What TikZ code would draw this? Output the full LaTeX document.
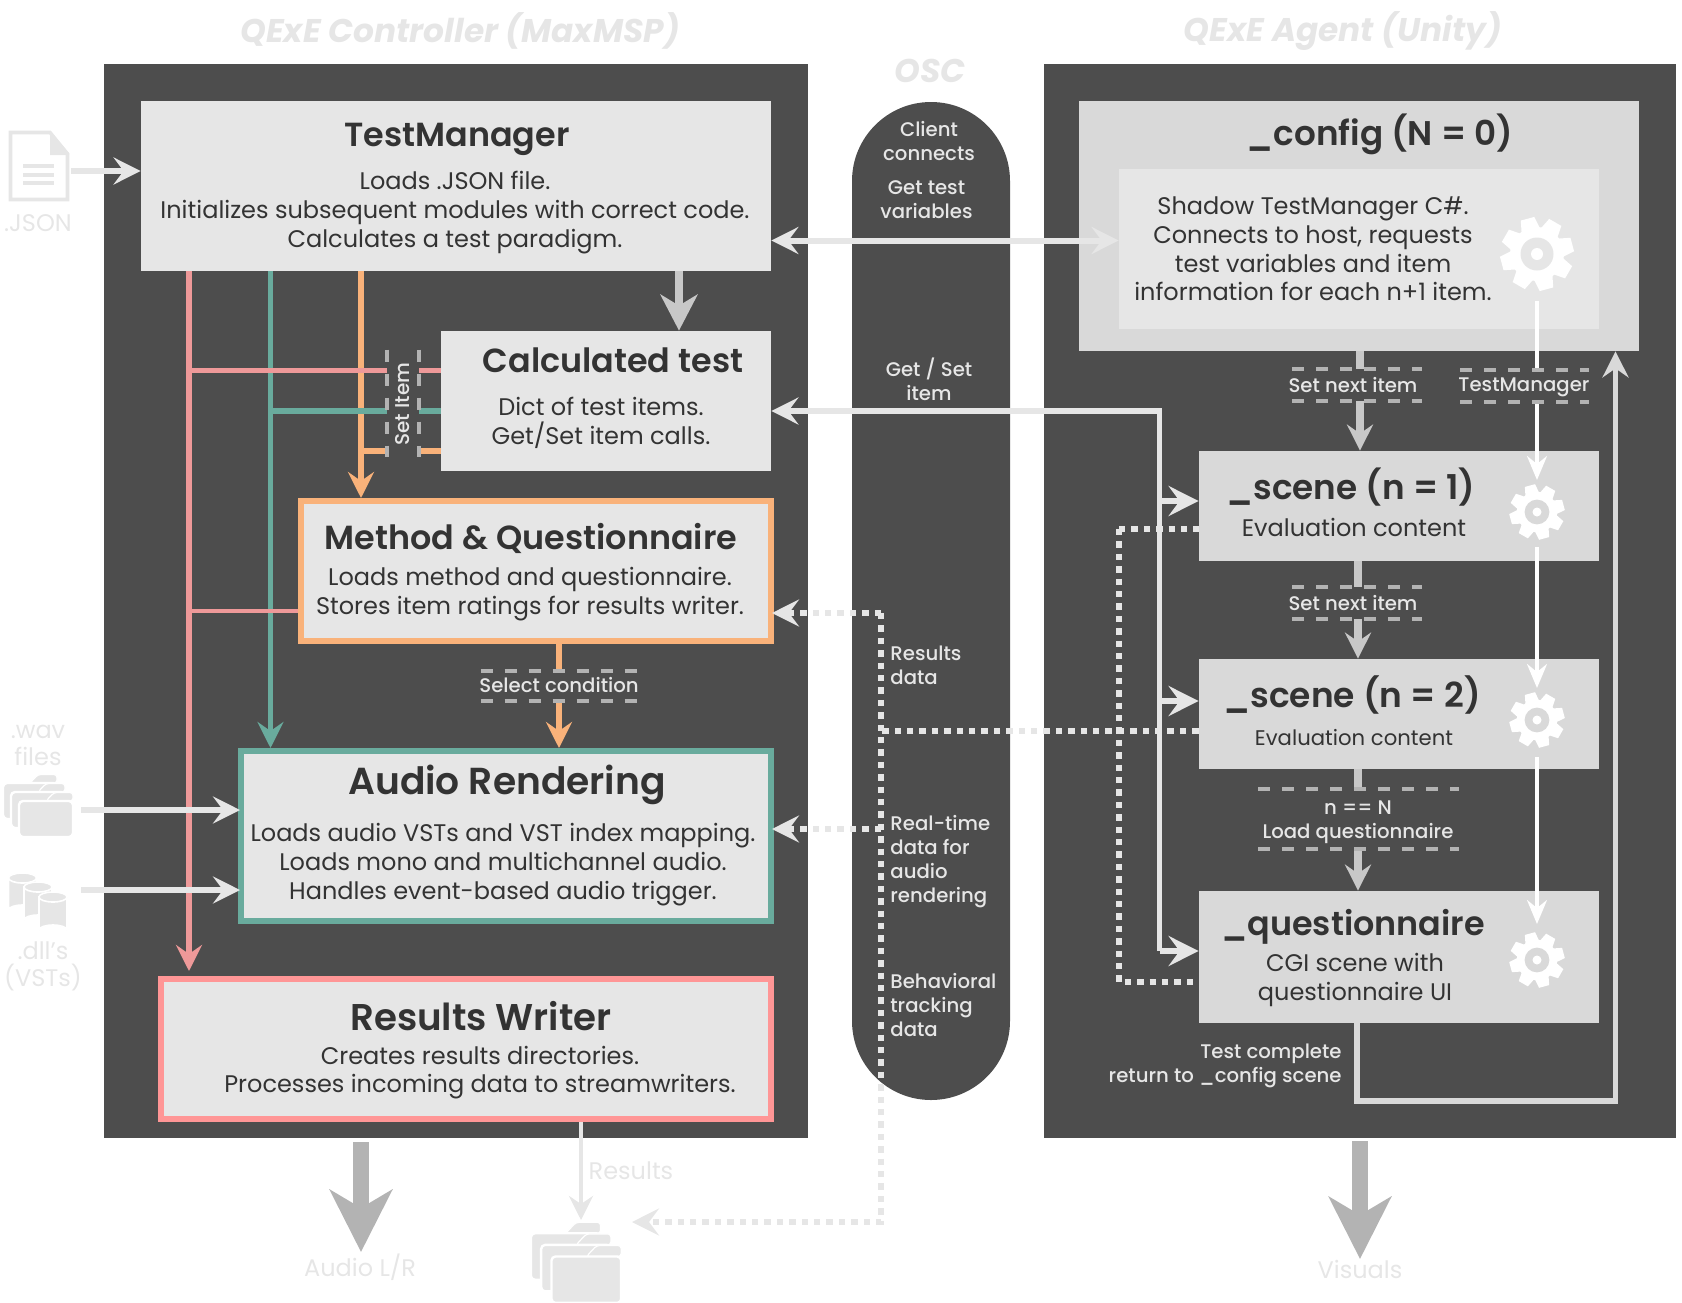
\documentclass[tikz,border=0pt]{standalone}
\usepackage{fontspec}
\setmainfont{Poppins}
\newfontfamily\semib{Poppins SemiBold}
\newfontfamily\medf{Poppins Medium}
\usetikzlibrary{arrows.meta}
\definecolor{panel}{HTML}{4D4D4D}
\definecolor{lite}{HTML}{E6E6E6}
\definecolor{mid}{HTML}{D9D9D9}
\definecolor{ink}{HTML}{333333}
\definecolor{gline}{HTML}{C8C8C8}
\definecolor{bigg}{HTML}{B3B3B3}
\definecolor{dashg}{HTML}{B3B3B3}
\definecolor{orng}{HTML}{F9B27A}
\definecolor{teal2}{HTML}{69AB9D}
\definecolor{pinkl}{HTML}{EE9999}
\definecolor{pinkb}{HTML}{FF9696}
\newcommand\bx[6]{\node[#6,minimum width={(#4-#2)*0.5pt},minimum height={(#5-#3)*0.5pt}] (#1) at ({(#2+#4)/2},{(#3+#5)/2}) {};}
\newcommand\fb[6]{\node[framebox=#6,minimum width={(#4-#2-6)*0.5pt},minimum height={(#5-#3-6)*0.5pt}] (#1) at ({(#2+#4)/2},{(#3+#5)/2}) {};}
\newcommand\gearicon[4]{% x y scale holecolour
  \begin{scope}[shift={(#1,#2)},scale=#3]
    \foreach \a in {15,60,...,330} {
      \fill[white,rotate=\a] (24,-9.5) -- (36.5,-7) -- (36.5,7) -- (24,9.5) -- cycle;
    }
    \fill[white] (0,0) circle[radius=27];
    \fill[#4] (0,0) circle[radius=16.5];
    \fill[white] (0,0) circle[radius=6];
  \end{scope}}
\newcommand\flayer[2]{% one sheet of the folder stack, shifted
  \begin{scope}[shift={(#1,#2)}]
    \filldraw[lite,draw=white,line width=.6pt,rounded corners=1.5pt] (46,31) -- (54,22.5) -- (73,22.5) -- (73,31) -- cycle;
    \filldraw[lite,draw=white,line width=1.2pt,rounded corners=2pt] (19,31) -- (73,31) -- (73,67) -- (19,67) -- cycle;
  \end{scope}}
\newcommand\folderstack[3]{%
  \begin{scope}[shift={(#1,#2)},scale=#3]
    \flayer{-16}{-18}\flayer{-8}{-9}\flayer{0}{0}
  \end{scope}}
\newcommand\cyl[3]{% cx ytop ybot
  \filldraw[lite,draw=white,line width=.8pt] (#1-14,#2) -- (#1-14,#3) arc[start angle=180,end angle=360,x radius=14,y radius=5] -- (#1+14,#2) -- cycle;
  \filldraw[lite,draw=white,line width=.8pt] (#1,#2) ellipse[x radius=14,y radius=5];}
\tikzset{
  x=0.5pt,y=-0.5pt,
  tipL/.tip={Stealth[length=13.5pt,width=13.5pt,inset=5pt]},
  tipLL/.tip={Stealth[length=15pt,width=15pt,inset=5.5pt]},
  tipS/.tip={Stealth[length=12pt,width=12pt,inset=4pt]},
  tipT/.tip={Stealth[length=12pt,width=10pt,inset=4pt]},
  tipG/.tip={Stealth[length=18pt,width=18.5pt,inset=5.5pt]},
  tipM/.tip={Stealth[length=13pt,width=13pt,inset=4.5pt]},
  tipB/.tip={Stealth[length=31pt,width=31pt,inset=9pt]},
  panelbox/.style={fill=panel,inner sep=0pt},
  plainbox/.style={fill=lite,inner sep=0pt},
  scenebox/.style={fill=mid,inner sep=0pt},
  framebox/.style={fill=lite,draw=#1,line width=3pt,inner sep=0pt},
  pillbox/.style={fill=panel,inner sep=0pt,rounded corners=39.5pt},
  gapbox/.style={fill=panel,inner sep=0pt},
  heading/.style={font=\fontsize{16.7}{20}\semib\selectfont,text=ink,inner sep=0pt},
  headbig/.style={heading,font=\fontsize{18.8}{20}\semib\selectfont},
  headmid/.style={heading,font=\fontsize{17.1}{20}\semib\selectfont},
  body/.style={font=\fontsize{12}{14.4}\selectfont,text=ink,align=center,inner sep=0pt},
  note/.style={font=\fontsize{9.85}{12}\medf\selectfont,text=lite,align=center,inner sep=0pt},
  notel/.style={note,align=left,anchor=west},
  outer/.style={font=\fontsize{12}{13.5}\selectfont,text=lite,align=center,inner sep=0pt},
  titletxt/.style={font=\fontsize{16.4}{20}\bfseries\itshape\selectfont,text=lite,inner sep=0pt},
  lightarrow/.style={draw=lite,line width=3pt,-{tipL}},
  scenearrow/.style={draw=lite,line width=3pt,-{tipLL}},
  getset/.style={draw=lite,line width=2.8pt},
  graybar/.style={draw=gline,line width=4pt},
  grayarrow/.style={graybar,-{tipM}},
  dashbar/.style={draw=dashg,line width=2pt,dash pattern=on 6pt off 6pt},
  dots/.style={draw=lite,line width=2.8pt,dash pattern=on 3.2pt off 3pt},
  whiteline/.style={draw=white,line width=1.7pt},
  pinkline/.style={draw=pinkl,line width=2.8pt},
  tealline/.style={draw=teal2,line width=2.8pt},
  orngline/.style={draw=orng,line width=2.8pt},
  bigarrow/.style={draw=bigg,line width=8pt,-{tipB}},
}
\begin{document}
\begin{tikzpicture}
\useasboundingbox (0,0) rectangle (1682,1302);
% panels
\bx{lp}{104}{64}{808}{1138}{panelbox}
\bx{rp}{1044}{64}{1676}{1138}{panelbox}
\node[pillbox,minimum width=79pt,minimum height=499pt] (pill) at (931,601) {};
% coordinates for routes
\coordinate (px) at (189,0);
\coordinate (tx) at (270.5,0);
\coordinate (ox) at (361,0);
\coordinate (gx) at (679,0);
\coordinate (mx) at (559,0);
\coordinate (dx) at (881,0);
\coordinate (sx) at (1159.5,0);
\coordinate (qx) at (1119,0);
\coordinate (wx) at (1537,0);
\coordinate (rx) at (1615.5,0);
\coordinate (ax) at (1360,0);
\coordinate (bx) at (1358,0);
\coordinate (resx) at (581,0);
% boxes
\bx{tm}{141}{101}{771}{271}{plainbox}
\bx{ct}{441}{331}{771}{471}{plainbox}
\fb{mq}{298}{498}{774}{644}{orng}
\fb{ar}{238}{748}{774}{924}{teal2}
\fb{rw}{158}{976}{774}{1122}{pinkb}
\bx{cfg}{1079}{101}{1639}{351}{scenebox}
\bx{cfi}{1119}{169}{1599}{329}{plainbox}
\bx{sa}{1199}{451}{1599}{560.5}{scenebox}
\bx{sb}{1199}{659}{1599}{768.5}{scenebox}
\bx{qu}{1199}{891}{1599}{1022.5}{scenebox}
% free ends
\coordinate (json) at (71,171);
\coordinate (wav) at (81,810);
\coordinate (dll) at (81,890);
\coordinate (aud) at (361,1142);
\coordinate (audt) at (361,1252);
\coordinate (vis) at (1360,1141);
\coordinate (vist) at (1360,1259);
\coordinate (rest) at (581,1220);
\coordinate (rfold) at (632,1222);
\coordinate (ret) at (1357,1101);
\coordinate (ret2) at (1615.5,1101);
% coloured routes
\draw[pinkline,-{tipM}] (tm.south -| px) -- ([yshift=2.5pt]rw.north -| px) ;
\draw[tealline,-{tipM}] (tm.south -| tx) -- (ar.north -| tx);
\draw[orngline,-{tipM}] (tm.south -| ox) -- (mq.north -| ox);
\coordinate (y1) at (0,370.6);
\coordinate (y2) at (0,411);
\coordinate (y3) at (0,451);
\coordinate (y4) at (0,611);
\draw[pinkline] (px |- y1) -- (ct.west |- y1);
\draw[tealline] (tx |- y2) -- (ct.west |- y2);
\draw[orngline] (ox |- y3) -- (ct.west |- y3);
\draw[pinkline,line width=2pt] (px |- y4) -- (mq.west |- y4);
\draw[orngline,line width=3pt,-{tipM}] (mq.south -| mx) -- (ar.north -| mx);
% gray and light arrows
\draw[draw=gline,line width=4pt,-{tipG}] (tm.south -| gx) -- (ct.north -| gx);
\draw[lightarrow] (json) -- (tm.west |- json);
\draw[lightarrow] (wav) -- ([xshift=1pt]ar.west |- wav);
\draw[lightarrow] (dll) -- ([xshift=1pt]ar.west |- dll);
\draw[draw=lite,line width=2pt,-{tipS}] (rw.south -| resx) -- (rest);
\draw[bigarrow] (aud) -- (audt);
\draw[bigarrow] (vis) -- (vist);
% OSC dotted routes
\coordinate (dy) at (0,730.7);
\coordinate (dy1) at (0,613);
\coordinate (dy2) at (0,829);
\coordinate (dy3) at (0,529);
\coordinate (dy4) at (0,982);
\coordinate (dy5) at (0,1222);
\draw[dots] (qx |- dy3) -- (sa.west |- dy3);
\draw[dots] (qx |- dy3) -- (qx |- dy4) -- (qu.west |- dy4);
\draw[dots] (sb.west |- dy) -- (dx |- dy);
\draw[dots,-{tipL}] (dx |- dy2) -- ([xshift=-1pt]ar.east |- dy2);
\draw[dots,-{tipL}] (dx |- dy1) -- ([xshift=-1pt]mq.east |- dy1);
\draw[dots,-{tipL}] (dx |- dy1) -- (dx |- dy5) -- (rfold);
% OSC solid routes
\coordinate (y5) at (0,240.5);
\draw[lightarrow,{tipL}-{tipL}] (tm.east |- y5) -- (cfi.west |- y5);
\coordinate (ya) at (0,501);
\coordinate (yb) at (0,701);
\coordinate (yc) at (0,951);
\draw[getset,{tipL}-] (ct.east |- y2) -- (sx |- y2) -- (sx |- yc);
\draw[scenearrow] (sx |- ya) -- (sa.west |- ya);
\draw[scenearrow] (sx |- yb) -- (sb.west |- yb);
\draw[scenearrow] (sx |- yc) -- (qu.west |- yc);
% agent routes
\coordinate (d1) at (0,369);
\coordinate (d2) at (0,401);
\coordinate (d3) at (0,587);
\coordinate (d4) at (0,619);
\coordinate (d5) at (0,788.5);
\coordinate (d6) at (0,849);
\draw[graybar] (cfg.south -| ax) -- (ax |- d1);
\draw[grayarrow] (ax |- d2) -- (ax |- sa.north);
\draw[graybar] (sa.south -| bx) -- (bx |- d3);
\draw[grayarrow] (bx |- d4) -- (bx |- sb.north);
\draw[graybar] (sb.south -| bx) -- (bx |- d5);
\draw[grayarrow] (bx |- d6) -- (bx |- qu.north);
\draw[draw=mid,line width=2.8pt,-{tipM},line join=miter] (qu.south -| ret) -- (ret) -- (ret2) -- (rx |- cfg.south);
\coordinate (g0) at (0,301);
\coordinate (g1) at (0,370);
\coordinate (g2) at (0,402);
\coordinate (g3) at (0,480);
\coordinate (g4) at (0,547);
\coordinate (g5) at (0,688);
\coordinate (g6) at (0,757);
\coordinate (g7) at (0,924);
\draw[whiteline] (wx |- g0) -- (wx |- g1);
\draw[whiteline,-{tipT}] (wx |- g2) -- (wx |- g3);
\draw[whiteline,-{tipT}] (wx |- g4) -- (wx |- g5);
\draw[whiteline,-{tipT}] (wx |- g6) -- (wx |- g7);
% dashed labels
\bx{si}{387}{350}{419}{457}{gapbox}
\draw[dashbar] (si.north west) -- (si.south west);
\draw[dashbar] (si.north east) -- (si.south east);
\node[note,rotate=90,font=\fontsize{10}{12}\medf\selectfont] (sit) at (403,404) {Set Item};
\bx{sc}{481}{671}{638}{701}{gapbox}
\draw[dashbar] (sc.north west) -- (sc.north east);
\draw[dashbar] (sc.south west) -- (sc.south east);
\node[note] (sct) at (559,685) {Select condition};
\draw[dashbar] (1292,369) -- (1422,369);
\draw[dashbar] (1292,401) -- (1422,401);
\node[note] (n1) at (1353,385) {Set next item};
\draw[dashbar] (1460,370) -- (1589,370);
\draw[dashbar] (1460,402) -- (1589,402);
\node[note] (n2) at (1524,387) {TestManager};
\draw[dashbar] (1292,587) -- (1422,587);
\draw[dashbar] (1292,619) -- (1422,619);
\node[note] (n3) at (1353,603) {Set next item};
\draw[dashbar] (1258,788.5) -- (1459,788.5);
\draw[dashbar] (1258,849) -- (1459,849);
\node[note] (n4) at (1358,822) {n == N\\Load questionnaire};
% box texts
\node[heading] (h1) at (457,139) {TestManager};
\node[body] (b1) at (455,212.5) {Loads .JSON file.\\Initializes subsequent modules with correct code.\\Calculates a test paradigm.};
\node[heading] (h2) at (613,360) {Calculated test};
\node[body] (b2) at (601,422.5) {Dict of test items.\\Get/Set item calls.};
\node[heading] (h3) at (531,538) {Method \& Questionnaire};
\node[body] (b3) at (530,594) {Loads method and questionnaire.\\Stores item ratings for results writer.};
\node[headbig] (h4) at (507,785) {Audio Rendering};
\node[body] (b4) at (503,864.5) {Loads audio VSTs and VST index mapping.\\Loads mono and multichannel audio.\\Handles event-based audio trigger.};
\node[headbig,font=\fontsize{18.6}{20}\semib\selectfont] (h5) at (481,1016.5) {Results Writer};
\node[body] (b5) at (480,1072.5) {Creates results directories.\\Processes incoming data to streamwriters.};
\node[headmid] (h6) at (1380,134) {\_config (N = 0)};
\node[body] (b6) at (1313,249) {Shadow TestManager C\#.\\Connects to host, requests\\test variables and item\\information for each n+1 item.};
\node[headmid,font=\fontsize{17.1}{20}\semib\selectfont] (h7) at (1351,487) {\_scene (n = 1)};
\node[body] (b7) at (1354,527) {Evaluation content};
\node[headmid,font=\fontsize{17.2}{20}\semib\selectfont] (h8) at (1352,695) {\_scene (n = 2)};
\node[body,font=\fontsize{10.6}{14.4}\selectfont] (b8) at (1354,738) {Evaluation content};
\node[heading] (h9) at (1353,927) {\_questionnaire};
\node[body] (b9) at (1355,980) {CGI scene with\\questionnaire UI};
% OSC texts
\node[note] (o1) at (929,141) {Client\\connects};
\node[note] (o2) at (926.5,199.5) {Get test\\variables};
\node[note] (o3) at (929,379.5) {Get / Set\\item};
\node[notel] (o4) at (890,665) {Results\\data};
\node[notel] (o5) at (890,862) {Real-time\\data for\\audio\\rendering};
\node[notel] (o6) at (890,1005) {Behavioral\\tracking\\data};
\node[note,align=right,anchor=east] (o7) at (1342,1066) {Test complete\\return to \_config scene};
% outer texts
\node[titletxt] (t1) at (460,31) {QExE Controller (MaxMSP)};
\node[titletxt] (t2) at (1343,31.5) {QExE Agent (Unity)};
\node[titletxt] (t3) at (930,70.5) {OSC};
\node[outer] (x1) at (38,223) {.JSON};
\node[outer] (x2) at (38,745) {.wav\\files};
\node[outer] (x3) at (43,966) {.dll's\\(VSTs)};
\node[outer] (x4) at (631,1171) {Results};
\node[outer] (x5) at (360,1267) {Audio L/R};
\node[outer] (x6) at (1360,1269) {Visuals};
% gears
\gearicon{1537}{254}{1}{lite}
\gearicon{1537}{512}{0.75}{mid}
\gearicon{1537}{720}{0.75}{mid}
\gearicon{1537}{960}{0.75}{mid}
% json icon
\draw[lite,line width=1.8pt,line join=miter] (10.5,132.5) -- (50,132.5) -- (67.5,154) -- (67.5,199.5) -- (10.5,199.5) -- cycle;
\fill[lite] (50,131) -- (69,153) -- (69,155) -- (50,155) -- cycle;
\foreach \yy in {166,175,183} {\draw[lite,line width=1.7pt] (23,\yy) -- (54,\yy);}
% folder icons
\folderstack{0}{770}{1}
\begin{scope}
\clip (0,0) rectangle (1682,1302);
\folderstack{527}{1216.5}{1.29}
\end{scope}
% database icon
\cyl{22.5}{878}{910}
\cyl{38}{887}{920}
\cyl{53}{897}{930}
\end{tikzpicture}
\end{document}
